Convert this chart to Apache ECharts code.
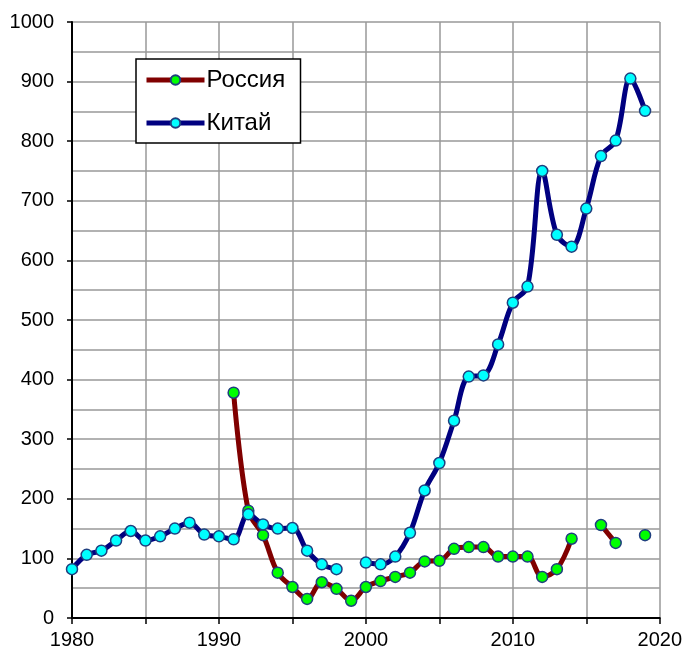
<!DOCTYPE html>
<html>
<head>
<meta charset="utf-8">
<script src="https://cdn.jsdelivr.net/npm/echarts@6/dist/echarts.min.js"></script>
<style>
    html, body { margin: 0; padding: 0; background: #fff; }
    #chart { width: 685px; height: 652px; }
</style>
</head>
<body>
<div id="chart"></div>
<script>
// годы по оси X (1980 - 2020)
var years = [];
for ( var y = 1980; y <= 2020; y++ ){
    years.push( String( y ) );
}
// Россия, 1980-2020 (null = нет данных)
var russia = [
    null, null, null, null, null, null, null, null, null, null,
    null, 378, 180, 139, 76, 52, 32, 60, 49, 29,
    52, 62, 69, 76, 95, 96, 116, 119, 119, 103,
    103, 103, 69, 82, 133, null, 156, 126, null, 139,
    null
];
// Китай, 1980-2020
var china = [
    82, 106, 113, 130, 146, 130, 137, 150, 160, 140,
    137, 132, 174, 157, 150, 151, 113, 90, 82, null,
    93, 90, 103, 143, 214, 260, 331, 405, 407, 459,
    529, 556, 750, 643, 623, 687, 775, 801, 905, 851,
    null
];
var seriesNames = ['Россия', 'Китай'];

var font = 'Liberation Sans, Arial, sans-serif';
var gridColor = '#999999';

var myChart = echarts.init( document.getElementById('chart') );
var option = {
    animation: false,
    backgroundColor: '#ffffff',
    grid: {
        left: 72,
        right: 25,
        top: 22,
        bottom: 34
    },
    legend: {
        orient: 'vertical',
        left: 136,
        top: 59,
        data: seriesNames,
        backgroundColor: '#ffffff',
        borderColor: '#000000',
        borderWidth: 1.5,
        padding: [7, 6, 6, 8],
        itemGap: 15,
        itemWidth: 58,
        itemHeight: 12,
        lineStyle: { width: 5 },
        textStyle: {
            fontFamily: font,
            fontSize: 24,
            color: '#000',
            lineHeight: 28,
            width: 88,
            padding: [0, 0, 0, -3]
        }
    },
    xAxis: {
        type: 'category',
        data: years,
        boundaryGap: false,
        axisLine: { lineStyle: { color: '#000', width: 2 } },
        axisTick: { interval: 4, length: 6, lineStyle: { color: '#000', width: 1.5 } },
        axisLabel: {
            interval: 9,
            margin: 12,
            fontFamily: font,
            fontSize: 20,
            color: '#000'
        },
        splitLine: { show: true, interval: 4, lineStyle: { color: gridColor, width: 1.5 } }
    },
    yAxis: {
        type: 'value',
        min: 0,
        max: 1000,
        interval: 100,
        axisLine: { show: true, lineStyle: { color: '#000', width: 2 } },
        axisTick: { show: true, length: 5, lineStyle: { color: '#000', width: 1.5 } },
        axisLabel: {
            margin: 18,
            fontFamily: font,
            fontSize: 20,
            color: '#000',
            formatter: function ( v ) { return String( v ); }
        },
        splitLine: { show: true, lineStyle: { color: gridColor, width: 1.5 } },
        minorTick: { show: false, splitNumber: 2 },
        minorSplitLine: { show: true, lineStyle: { color: gridColor, width: 1.5 } }
    },
    series: [
        {
            name: 'Россия',
            type: 'line',
            data: russia,
            smooth: 0.35,
            connectNulls: false,
            symbol: 'circle',
            symbolSize: 11,
            showAllSymbol: true,
            lineStyle: { color: '#800000', width: 5 },
            itemStyle: { color: '#00ff00', borderColor: '#1f3f7f', borderWidth: 1.5 }
        },
        {
            name: 'Китай',
            type: 'line',
            data: china,
            smooth: 0.35,
            connectNulls: false,
            symbol: 'circle',
            symbolSize: 11,
            showAllSymbol: true,
            lineStyle: { color: '#000080', width: 5 },
            itemStyle: { color: '#00ffff', borderColor: '#1f3f7f', borderWidth: 1.5 }
        }
    ]
};
myChart.setOption( option );
</script>
</body>
</html>
